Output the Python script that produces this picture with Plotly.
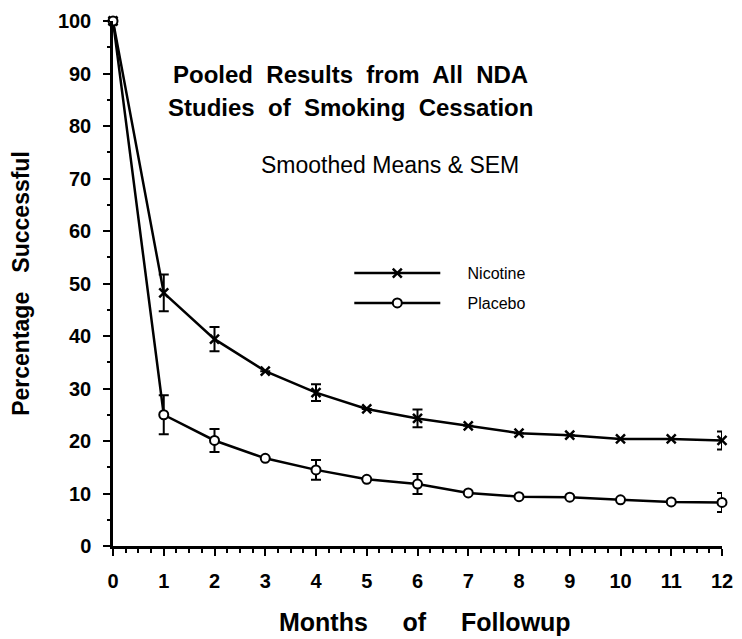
import plotly.graph_objects as go

months = [0, 1, 2, 3, 4, 5, 6, 7, 8, 9, 10, 11, 12]
nicotine = [100, 48.2, 39.4, 33.3, 29.2, 26.1, 24.3, 22.9, 21.5, 21.1, 20.4, 20.4, 20.1]
nicotine_sem = [0, 3.5, 2.3, 0, 1.6, 0, 1.7, 0, 0, 0, 0, 0, 1.7]
placebo = [100, 25.0, 20.1, 16.7, 14.5, 12.7, 11.8, 10.1, 9.4, 9.3, 8.8, 8.4, 8.3]
placebo_sem = [0, 3.7, 2.2, 0, 1.9, 0, 1.9, 0, 0, 0, 0, 0, 1.8]

FONT = "Liberation Sans, Arial, sans-serif"
PAD = "\u00a0" * 5

fig = go.Figure()
fig.add_trace(go.Scatter(
    x=months, y=nicotine, name=PAD + "Nicotine", mode="lines+markers", legendgroup="a",
    line=dict(color="black", width=2.5),
    marker=dict(symbol="x-thin-open", size=9, color="black", line=dict(width=2.5, color="black")),
    error_y=dict(type="data", array=nicotine_sem, visible=True, color="black", thickness=2, width=5),
    cliponaxis=False,
))
fig.add_trace(go.Scatter(
    x=months, y=placebo, name=PAD + "Placebo", mode="lines+markers", legendgroup="b",
    line=dict(color="black", width=2.5),
    marker=dict(symbol="circle", size=9, color="white", line=dict(width=2, color="black")),
    error_y=dict(type="data", array=placebo_sem, visible=True, color="black", thickness=2, width=5),
    cliponaxis=False,
))

fig.update_layout(
    width=734, height=631,
    paper_bgcolor="white", plot_bgcolor="white",
    margin=dict(l=105, r=20, t=13, b=93, autoexpand=False),
    font=dict(family=FONT, color="black"),
    showlegend=True,
    legend=dict(
        x=0.388, y=0.552, xanchor="left", yanchor="top",
        font=dict(size=16, family=FONT, color="black"),
        bgcolor="rgba(0,0,0,0)", tracegroupgap=6, itemwidth=86,
    ),
    xaxis=dict(
        range=[0, 12], tickmode="linear", tick0=0, dtick=1, automargin=False,
        showgrid=False, zeroline=False, showline=True, linecolor="black", linewidth=2.5,
        ticks="outside", ticklen=7, tickwidth=2, tickcolor="black",
        minor=dict(ticks="outside", ticklen=4, tickwidth=1.5, tickcolor="black", dtick=0.25, showgrid=False),
        tickfont=dict(size=20, family=FONT, color="black", weight="bold"),
        ticklabelstandoff=8, ticklabeloverflow="allow",
    ),
    yaxis=dict(
        range=[0, 100], tickmode="linear", tick0=0, dtick=10, automargin=False,
        showgrid=False, zeroline=False, showline=True, linecolor="black", linewidth=2.5,
        ticks="outside", ticklen=7, tickwidth=2, tickcolor="black",
        minor=dict(ticks="outside", ticklen=3, tickwidth=1.5, tickcolor="black", dtick=5, showgrid=False),
        tickfont=dict(size=20, family=FONT, color="black", weight="bold"),
        ticklabelstandoff=8, ticklabeloverflow="allow",
        title=dict(text="<b>Percentage   Successful</b>", font=dict(size=23, family=FONT, color="black"), standoff=31),
    ),
    annotations=[
        dict(text="<b>Pooled  Results  from  All  NDA</b>", xref="paper", yref="paper",
             x=0.39, y=0.898, xanchor="center", yanchor="middle", showarrow=False,
             font=dict(size=24, family=FONT, color="black")),
        dict(text="<b>Studies  of  Smoking  Cessation</b>", xref="paper", yref="paper",
             x=0.39, y=0.836, xanchor="center", yanchor="middle", showarrow=False,
             font=dict(size=24, family=FONT, color="black")),
        dict(text="Smoothed Means &amp; SEM", xref="paper", yref="paper",
             x=0.455, y=0.725, xanchor="center", yanchor="middle", showarrow=False,
             font=dict(size=23, family=FONT, color="black")),
        dict(text="<b>Months     of     Followup</b>", xref="paper", yref="paper",
             x=0.512, y=-0.144, xanchor="center", yanchor="middle", showarrow=False,
             font=dict(size=25, family=FONT, color="black")),
    ],
)

fig.write_html("out.html")
